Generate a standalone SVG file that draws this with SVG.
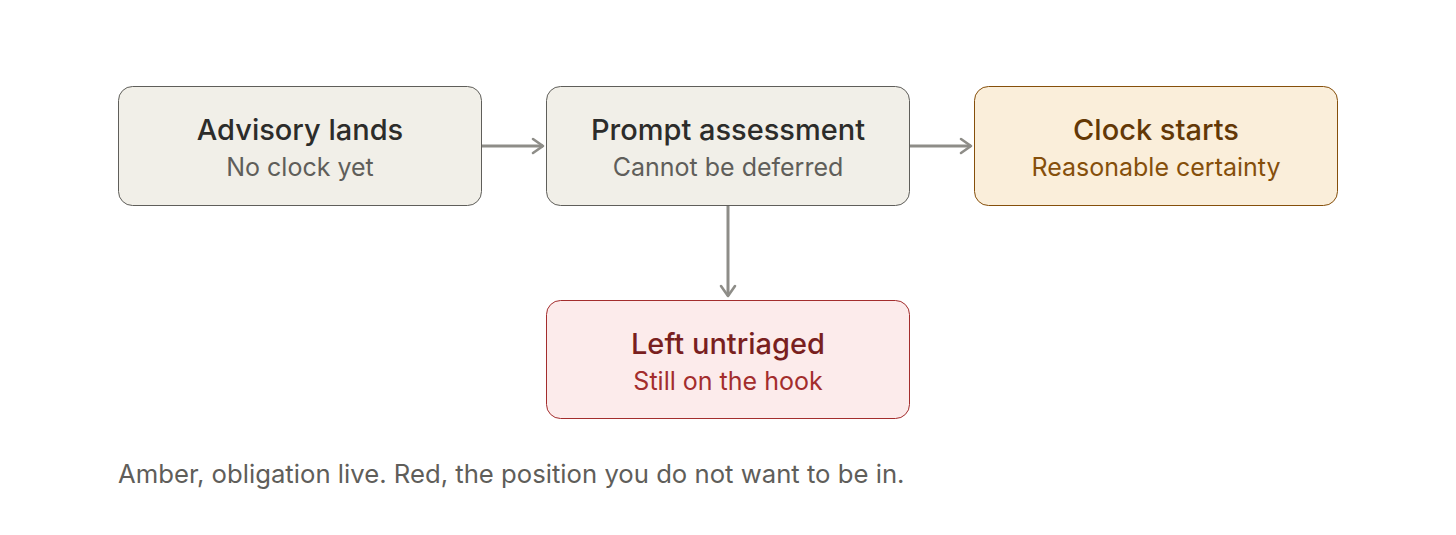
<svg xmlns="http://www.w3.org/2000/svg" width="1456" height="535" viewBox="0 0 1456 535">
<style>
.box{stroke-width:1}
.n rect{fill:#F1EFE8;stroke:#5F5E5A}
.n .t{fill:#2C2C2A}
.n .s{fill:#5F5E5A}
.a rect{fill:#FAEEDA;stroke:#854F0B}
.a .t{fill:#633806}
.a .s{fill:#854F0B}
.r rect{fill:#FCEBEB;stroke:#A32D2D}
.r .t{fill:#791F1F}
.r .s{fill:#A32D2D}
text{font-family:Inter,"Noto Sans",sans-serif;text-anchor:middle}
.t{font-size:29px;font-weight:500}
.s{font-size:25px}
.cap{font-size:25.7px;fill:#5F5E5A;text-anchor:start}
.edge{stroke:#8E8D88;stroke-width:3;fill:none}
</style>
<defs>
<marker id="arr" viewBox="0 0 16 18" refX="14" refY="9" markerWidth="16" markerHeight="18" markerUnits="userSpaceOnUse" orient="auto">
<path d="M4 2 L14 9 L4 16" fill="none" stroke="#8E8D88" stroke-width="2.6" stroke-linecap="round" stroke-linejoin="round"/>
</marker>
</defs>
<rect width="1456" height="535" fill="#fff"/>
<g id="connectors">
<path class="edge" d="M482 146 H543" marker-end="url(#arr)"/>
<path class="edge" d="M910 146 H971" marker-end="url(#arr)"/>
<path class="edge" d="M728 205 V296" marker-end="url(#arr)"/>
</g>
<g id="advisory" class="n">
<rect class="box" x="118.5" y="86.5" width="363" height="119" rx="14"/>
<text class="t" x="300" y="140">Advisory lands</text>
<text class="s" x="300" y="176">No clock yet</text>
</g>
<g id="prompt" class="n">
<rect class="box" x="546.5" y="86.5" width="363" height="119" rx="14"/>
<text class="t" x="728" y="140">Prompt assessment</text>
<text class="s" x="728" y="176">Cannot be deferred</text>
</g>
<g id="clock" class="a">
<rect class="box" x="974.5" y="86.5" width="363" height="119" rx="14"/>
<text class="t" x="1156" y="140">Clock starts</text>
<text class="s" x="1156" y="176">Reasonable certainty</text>
</g>
<g id="untriaged" class="r">
<rect class="box" x="546.5" y="300.5" width="363" height="118" rx="14"/>
<text class="t" x="728" y="354">Left untriaged</text>
<text class="s" x="728" y="390">Still on the hook</text>
</g>
<text class="cap" x="118" y="483">Amber, obligation live. Red, the position you do not want to be in.</text>
</svg>
